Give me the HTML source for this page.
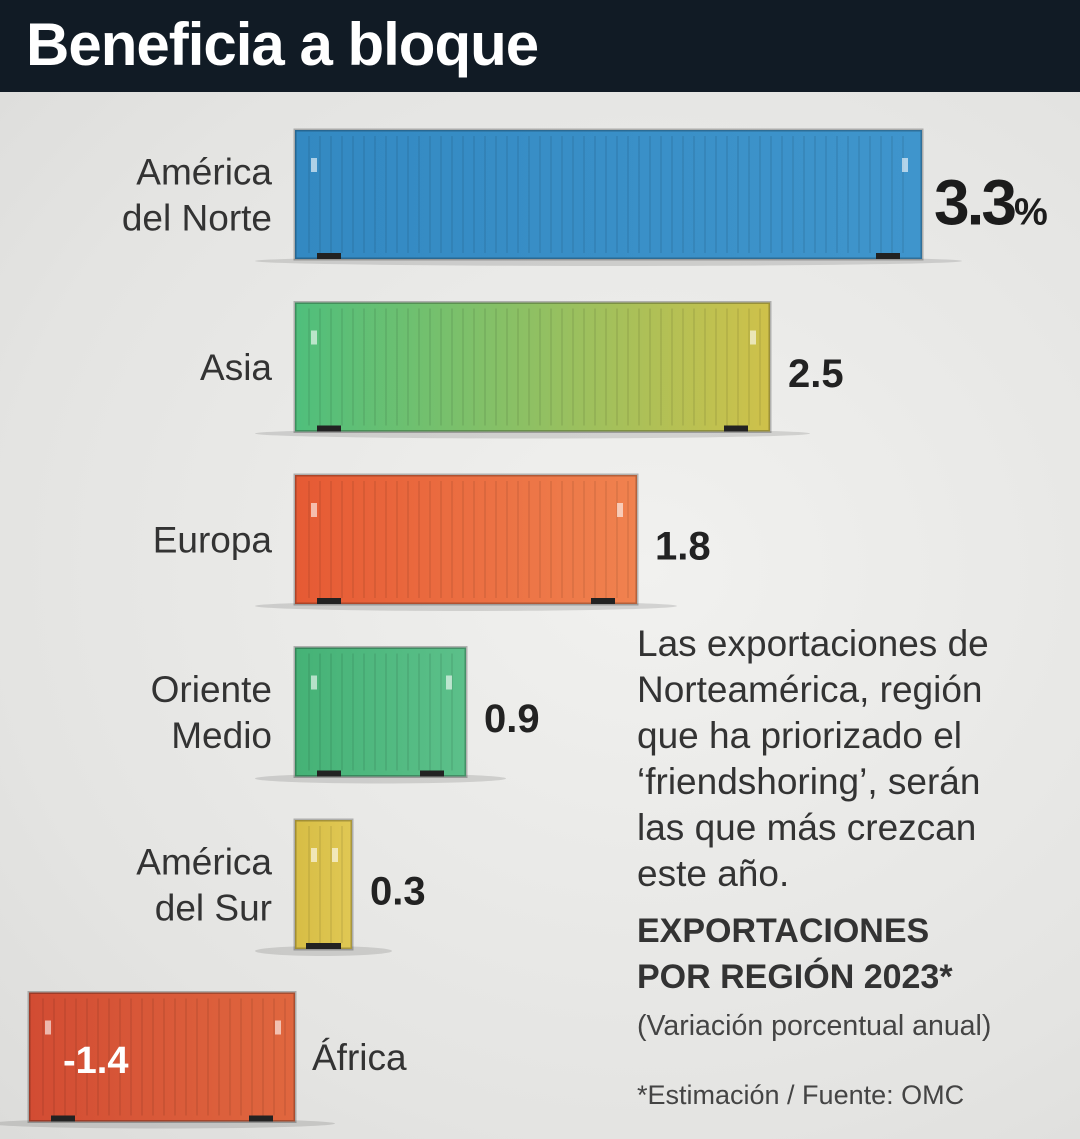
<!DOCTYPE html>
<html><head><meta charset="utf-8"><style>
body{margin:0;width:1080px;height:1139px;overflow:hidden;font-family:"Liberation Sans",sans-serif;}
#root{position:relative;width:1080px;height:1139px;background:radial-gradient(ellipse at 60% 50%,#f1f1ef 0%,#e4e4e2 70%,#dcdcda 100%);}
#hdr{position:absolute;left:0;top:0;width:1080px;height:92px;background:#111b25;}
#title{position:absolute;left:26px;top:10px;color:#fff;font-weight:bold;font-size:60px;letter-spacing:-1px;}
.t{position:absolute;color:#2c2c2c;}
</style></head><body>
<div id="root">
<div id="hdr"><div id="title">Beneficia a bloque</div></div>
<svg id="plot" width="1080" height="1139" style="position:absolute;left:0;top:0"></svg>
<div class="t" style="left:637px;top:621px;font-size:37px;line-height:46px;color:#333">Las exportaciones de<br>Norteamérica, región<br>que ha priorizado el<br>‘friendshoring’, serán<br>las que más crezcan<br>este año.</div>
<div class="t" style="left:637px;top:908px;font-size:34px;line-height:46px;font-weight:bold;color:#333">EXPORTACIONES<br>POR REGIÓN 2023*</div>
<div class="t" style="left:637px;top:1010px;font-size:28.5px;color:#444">(Variación porcentual anual)</div>
<div class="t" style="left:637px;top:1080px;font-size:27px;color:#444">*Estimación / Fuente: OMC</div>
</div>
<script>
const categories=[["América","del Norte"],["Asia"],["Europa"],["Oriente","Medio"],["América","del Sur"],["África"]];
const values=[3.3,2.5,1.8,0.9,0.3,-1.4];
const valueLabels=["3.3","2.5","1.8","0.9","0.3","-1.4"];
const colorsA=["#3389c2","#4fbf7c","#e65a34","#45b276","#d7bd45","#d24c33"];
const colorsB=["#3f95cc","#cfc14a","#f0824f","#5cc08a","#e0c854","#e0673f"];
const NS="http://www.w3.org/2000/svg";
const svg=document.getElementById('plot');
const zeroX=295,scale=190,top0=130,step=172.5,barH=129;
const xS=v=>zeroX+v*scale;
const yS=i=>top0+i*step;
function mk(tag,attrs){const e=document.createElementNS(NS,tag);for(const k in attrs)e.setAttribute(k,attrs[k]);svg.appendChild(e);return e;}
const defs=mk('defs',{});
values.forEach((v,i)=>{
  const g=document.createElementNS(NS,'linearGradient');g.setAttribute('id','g'+i);
  [[0,colorsA[i]],[1,colorsB[i]]].forEach(([o,c])=>{const s=document.createElementNS(NS,'stop');s.setAttribute('offset',o);s.setAttribute('stop-color',c);g.appendChild(s);});
  defs.appendChild(g);
  const x0=Math.min(xS(0),xS(v)),x1=Math.max(xS(0),xS(v)),y=yS(i);
  const sh=mk('ellipse',{cx:(x0+x1)/2,cy:y+barH+2,rx:(x1-x0)/2+40,ry:5,fill:'#000',opacity:0.12});
  
  const r=mk('rect',{x:x0,y:y,width:x1-x0,height:barH,fill:'url(#g'+i+')',stroke:'rgba(0,0,0,0.25)','stroke-width':3});
  
  
  for(let x=x0+14;x<x1-8;x+=11){const l=mk('line',{x1:x,y1:y+6,x2:x,y2:y+barH-6,stroke:'rgba(0,0,0,0.07)','stroke-width':2});}
  [x0+16,x1-20].forEach(cx=>{const m=mk('rect',{x:cx,y:y+28,width:6,height:14,fill:'rgba(255,255,255,0.6)'});});
  [x0+22,x1-46].forEach(cx=>{const f=mk('rect',{x:cx,y:y+barH-6,width:24,height:6,fill:'#222'});});
  const lines=categories[i];
  const cy=y+barH/2;
  lines.forEach((ln,j)=>{
    const neg=v<0;
    const t=mk('text',{x:neg?312:272,y:cy+13+(j-(lines.length-1)/2)*46,'text-anchor':neg?'start':'end','font-size':37,fill:'#333','font-family':'Liberation Sans, sans-serif'});
    t.textContent=ln;
  });
  let vt;
  if(v<0){vt=mk('text',{x:x0+34,y:cy+16,'font-size':38,'font-weight':'bold',fill:'#fff','font-family':'Liberation Sans, sans-serif'});vt.textContent=valueLabels[i];}
  else if(i===0){vt=mk('text',{x:x1+12,y:cy+30,'font-size':64,'font-weight':'bold',fill:'#1c1c1c','font-family':'Liberation Sans, sans-serif','letter-spacing':-3});vt.textContent=valueLabels[i];const p=document.createElementNS(NS,'tspan');p.setAttribute('font-size',38);p.textContent='%';vt.appendChild(p);}
  else{vt=mk('text',{x:x1+18,y:cy+20,'font-size':40,'font-weight':'bold',fill:'#222','font-family':'Liberation Sans, sans-serif'});vt.textContent=valueLabels[i];}
  
});
</script>
</body></html>
